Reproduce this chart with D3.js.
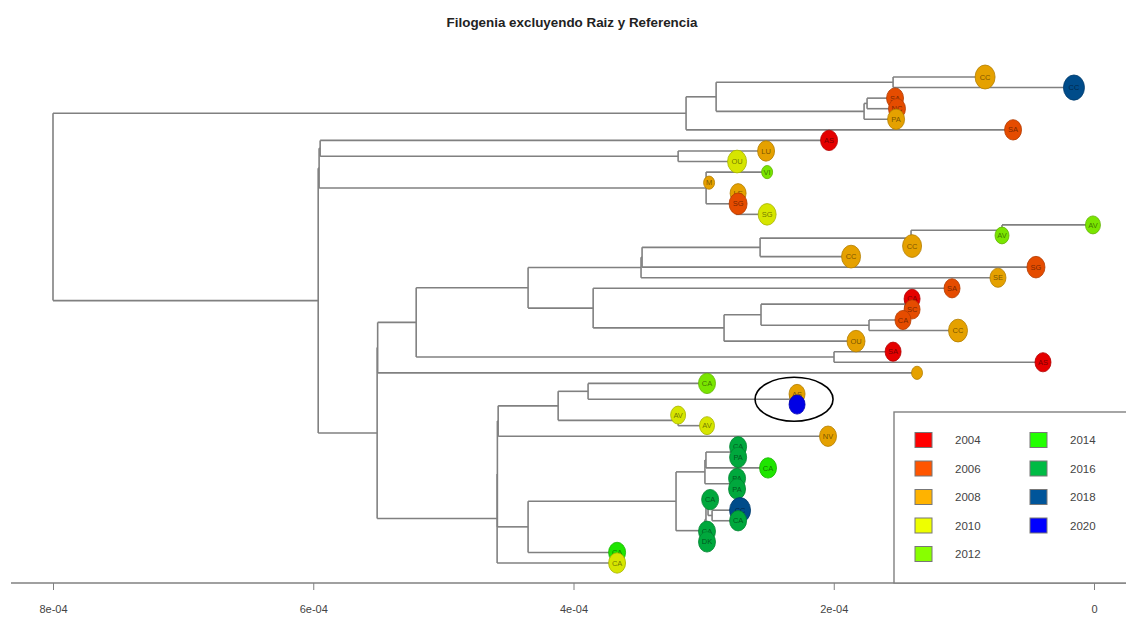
<!DOCTYPE html>
<html lang="es">
<head>
<meta charset="UTF-8">
<title>Filogenia</title>
<script src="https://d3js.org/d3.v7.min.js"></script>
<style>
  body { margin: 0; background: #fff; }
  svg { display: block; }
</style>
</head>
<body>
<div id="chart"></div>
<script>
// Datos del árbol (edades en unidades de 1e-4, eje invertido: 0 = presente)
const AGE_UNIT = 1e-4;

const tipLabels = ["CC","CC","SA","NC","PA","SA","AS","LU","OU","VI","M","LE","SG","SG",
  "AV","AV","CC","CC","SG","SE","SA","CA","SC","CA","CC","OU","SA","AS","",
  "CA","AS","","AV","AV","NV","CA","PA","CA","PA","PA","CA","CC","CA","CA","DK","CA","CA"];
const tipYears = [2008,2018,2006,2006,2008,2006,2004,2008,2010,2012,2008,2008,2006,2010,
  2012,2012,2008,2008,2006,2008,2006,2004,2006,2006,2008,2008,2004,2004,2008,
  2012,2008,2020,2010,2010,2008,2016,2016,2014,2016,2016,2016,2018,2016,2016,2016,2014,2010];
const tipAges = [0.837,0.154,1.529,1.514,1.521,0.622,2.036,2.520,2.743,2.512,2.958,2.735,2.735,2.512,
  0.008,0.707,1.398,1.867,0.446,0.738,1.091,1.398,1.398,1.468,1.045,1.829,1.544,0.392,1.360,
  2.974,2.282,2.282,3.196,2.974,2.044,2.735,2.735,2.505,2.743,2.743,2.950,2.720,2.735,2.974,2.974,3.665,3.665];
const tipSizes = [10,10.5,8.5,8.5,8.5,8.5,8.5,8.5,9.5,5.5,5.5,8,9,9,
  7.5,7,9.5,9.5,9,8,8,8,8,8,9.5,9,8,8,5.5,
  8.5,8,8,7.5,7.5,8.5,8.5,8.5,8.5,8.5,8.5,8.5,10.5,8.5,8.5,8.5,8.5,8.5];
const tipParents = ["A11","A11","A121","A121","A12","A","Bt1","LO","LO","N706","N706","N736","N736","N736",
  "N1002","N1002","N911","N760","N641b","N641","N593","N905","N905","N869","N869","N724","N834","N834","Bb1",
  "N588","N790","N790","N678","N678","D1","N738a","N738a","N707a","N737b","N737b","NY","NZ","NZ","NXa","NX","N528b","D"];

// nodos internos
const nodeIds = ["root","A","A1","A11","A12","A121","B","Bt","Bt1","LO","N706","N736",
  "Bb","Bb1","N416","N528a","N641","N641b","N760","N911","N1002","N593","N724","N761","N905","N869","N834",
  "D","D1p","D1","N558","N588","N790","N678","N528b","N676","N707","N707a","N738a","N737b","NX","NXa","NY","NZ"];
const nodeParents = ["","root","A","A1","A1","A12","root","B","Bt","Bt1","Bt","N706",
  "B","Bb","Bb1","N416","N528a","N641","N641b","N760","N911","N528a","N593","N724","N761","N761","N416",
  "Bb","D","D1p","D1","N558","N588","N558","D1p","N528b","N676","N707","N707a","N707","N676","NX","NXa","NY"];
const nodeAges = [8.00,3.135,2.904,1.544,1.767,1.744,5.962,5.955,5.947,3.196,2.981,2.751,
  5.509,5.505,5.209,4.349,3.481,3.473,2.566,1.406,0.707,3.849,2.843,2.559,1.452,1.729,1.998,
  4.587,4.585,4.579,4.118,3.888,2.336,3.196,4.349,3.212,2.990,2.982,2.750,2.751,2.990,2.982,2.966,2.935];

const years = [2004,2006,2008,2010,2012,2014,2016,2018,2020];
const yearColors = ["#ff0000","#ff5500","#ffb300","#eeff00","#88ff00","#22ff00","#00bb44","#00559a","#0000ff"];

const axisTicks = [8e-4,6e-4,4e-4,2e-4,0];
const axisTickLabels = ["8e-04","6e-04","4e-04","2e-04","0"];

const width = 1126, height = 618;
const narrow = "'Liberation Sans Narrow','Liberation Sans',Arial,sans-serif";

const svg = d3.select('#chart').append('svg')
  .attr('width', width).attr('height', height);

// tabla plana -> jerarquía
const rows = nodeIds.map((id, i) => ({ id, parent: nodeParents[i] || null, age: nodeAges[i] }))
  .concat(tipLabels.map((lab, i) => ({ id: 't' + i, parent: tipParents[i], age: tipAges[i], tip: i })));
const root = d3.stratify().id(d => d.id).parentId(d => d.parent)(rows);

const x = d3.scaleLinear().domain([8e-4, 0]).range([53, 1094]);
const y = d3.scaleLinear().domain([0, tipLabels.length - 1]).range([77, 563]);
const color = d3.scaleOrdinal().domain(years).range(yearColors);

// posiciones: hojas por orden, nodos al medio de sus hijos
root.eachAfter(n => {
  n.px = x(n.data.age * AGE_UNIT);
  if (n.children) {
    const ys = n.children.map(c => c.py);
    n.py = (d3.min(ys) + d3.max(ys)) / 2;
  } else {
    n.py = y(n.data.tip);
  }
});

const edges = svg.append('g')
  .attr('stroke', '#808080').attr('stroke-width', 1.6).attr('fill', 'none');

edges.selectAll('line.h')
  .data(root.descendants().filter(n => n.parent))
  .join('line').attr('class', 'h')
  .attr('x1', n => n.parent.px).attr('x2', n => n.px)
  .attr('y1', n => n.py).attr('y2', n => n.py);

edges.selectAll('line.v')
  .data(root.descendants().filter(n => n.children))
  .join('line').attr('class', 'v')
  .attr('x1', n => n.px).attr('x2', n => n.px)
  .attr('y1', n => d3.min(n.children, c => c.py))
  .attr('y2', n => d3.max(n.children, c => c.py));

// puntas
const tips = root.leaves().sort((a, b) => a.data.tip - b.data.tip);
const tipG = svg.append('g').selectAll('g').data(tips).join('g')
  .attr('transform', n => `translate(${n.px},${n.py})`);

tipG.append('ellipse')
  .attr('rx', n => tipSizes[n.data.tip])
  .attr('ry', n => tipSizes[n.data.tip] * 1.2)
  .attr('fill', n => d3.color(color(tipYears[n.data.tip])).darker(0.3))
  .attr('stroke', n => d3.color(color(tipYears[n.data.tip])).darker(1))
  .attr('stroke-width', 0.8);

tipG.append('text')
  .text(n => tipLabels[n.data.tip])
  .attr('text-anchor', 'middle').attr('dy', '0.35em')
  .attr('font-family', narrow).attr('font-size', 7.5)
  .attr('fill', 'rgba(0,0,0,0.5)');

// marca manual alrededor de la muestra 2020
svg.append('ellipse')
  .attr('cx', x(2.282 * AGE_UNIT) - 3).attr('cy', (y(30) + y(31)) / 2)
  .attr('rx', 39).attr('ry', 22)
  .attr('fill', 'none').attr('stroke', '#000').attr('stroke-width', 1.6);

// eje
svg.append('line').attr('x1', 11).attr('x2', width).attr('y1', 583).attr('y2', 583)
  .attr('stroke', '#808080').attr('stroke-width', 1.6);

const axis = svg.append('g').attr('transform', 'translate(0,583)')
  .call(d3.axisBottom(x).tickValues(axisTicks).tickSize(7).tickPadding(15)
    .tickFormat((d, i) => axisTickLabels[i]));
axis.select('.domain').remove();
axis.selectAll('.tick line').attr('stroke', '#808080');
axis.selectAll('.tick text').attr('font-family', narrow).attr('font-size', 11).attr('fill', '#444');

// leyenda
const leg = svg.append('g');
leg.append('rect').attr('x', 894).attr('y', 412).attr('width', 250).attr('height', 171)
  .attr('fill', '#fff').attr('stroke', '#808080').attr('stroke-width', 1.4);

const legItems = leg.selectAll('g.item').data(years).join('g').attr('class', 'item')
  .attr('transform', (d, i) => `translate(${i < 5 ? 915 : 1030},${440 + (i % 5) * 28.5})`);
legItems.append('rect').attr('x', 0).attr('y', -7.5).attr('width', 17).attr('height', 15)
  .attr('fill', d => color(d)).attr('stroke', '#777').attr('stroke-width', 1);
legItems.append('text').text(d => d)
  .attr('x', 40).attr('dy', '0.35em')
  .attr('font-family', narrow).attr('font-size', 11.5).attr('fill', '#444');

// título
svg.append('text')
  .attr('x', 572).attr('y', 27).attr('text-anchor', 'middle')
  .attr('font-family', narrow).attr('font-weight', 'bold').attr('font-size', 13.4)
  .attr('fill', '#222')
  .text('Filogenia excluyendo Raiz y Referencia');
</script>
</body>
</html>
